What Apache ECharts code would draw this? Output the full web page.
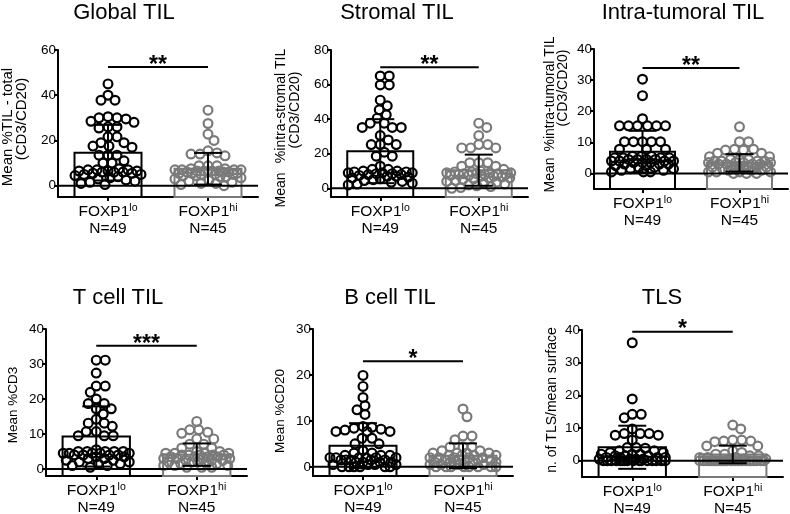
<!DOCTYPE html>
<html><head><meta charset="utf-8">
<script src="https://cdn.jsdelivr.net/npm/echarts@6/dist/echarts.min.js"></script>
<style>html,body{margin:0;padding:0;background:#fff}#c{width:790px;height:514px}</style>
</head><body><div id="c"></div>
<script>
// ---------------- data ----------------
const titles = ['Global TIL', 'Stromal TIL', 'Intra-tumoral TIL', 'T cell TIL', 'B cell TIL', 'TLS'];
const groupNames = ['FOXP1', 'FOXP1'];
const groupSup = ['lo', 'hi'];
const groupN = ['N=49', 'N=45'];
const yNames = [
  ['Mean %TIL - total', '(CD3/CD20)'],
  ['Mean', '%intra-stromal TIL', '(CD3/CD20)'],
  ['Mean', '%intra-tumoral TIL', '(CD3/CD20)'],
  ['Mean %CD3'],
  ['Mean %CD20'],
  ['n. of TLS/mean surface']
];
const yMin = [-5, -5, -5, -2, -2, -5];
const yMax = [60, 80, 40, 40, 30, 40];
const yTicks = [[0, 20, 40, 60], [0, 20, 40, 60, 80], [0, 10, 20, 30, 40], [0, 10, 20, 30, 40], [0, 10, 20, 30], [0, 10, 20, 30, 40]];
const meanLo = [14.6, 21.5, 7.0, 9.3, 4.6, 4.1];
const sdLo = [12.3, 18.5, 6.7, 8.6, 4.9, 6.6];
const meanHi = [7.5, 10.5, 3.4, 4.1, 2.4, 1.9];
const sdHi = [7.0, 9.0, 2.8, 3.2, 2.7, 2.7];
const sigY = [52.5, 70, 33.9, 35.2, 23, 39.5];
const sigStars = ['**', '**', '**', '***', '*', '*'];

const globalLo = [45, 40, 37.8, 37.8, 30, 30.5, 29.5, 30, 28, 28.5, 26, 26, 25.5, 21.6, 21.6, 19, 19, 17.5, 17.5, 17, 13.5, 13.5, 13.5, 11, 10, 10,
  7.5, 7, 7, 7, 6.5, 6.5, 6.5, 6, 6, 6, 5.5, 5.5, 5, 5, 4.5, 4, 3.5, 3, 2.5, 2, 1.5, 1, 0.5];
const globalHi = [33.4, 27.5, 22.8, 20, 15.4, 14.5, 14, 13.2, 14, 8.8, 8.8, 8.8,
  7.5, 7.5, 7, 7, 7, 7, 6.5, 6.5, 6.5, 6.5, 6, 6, 6, 6, 5.5, 5.5, 5.5, 5, 5, 5, 4.5, 4.5, 4, 4, 3.5, 3, 2.5, 2, 1.5, 1, 1, 0.5, 0];
const stromalLo = [65, 65, 59.8, 59.8, 51, 47.7, 45.4, 42.5, 40.6, 37.7, 37.7, 35.2, 35.2, 35.2, 30.5, 28, 25.3, 25.3, 25.3, 20.9, 18.6, 18.6, 12.8, 11, 11,
  10, 10, 9.5, 9.5, 9, 9, 9, 8.5, 8.5, 8, 8, 7.5, 7, 7, 6.5, 6, 5.5, 5, 4.5, 4, 3.5, 3, 2.5, 2];
const stromalHi = [37.7, 35.2, 30.5, 25.3, 25.3, 23.4, 23.4, 23.4, 14.8, 14.8, 14.8, 12.8, 12.8,
  11, 10, 9.5, 9.5, 9, 9, 9, 8.5, 8.5, 8.5, 8, 8, 8, 7.5, 7.5, 7, 7, 6.5, 6, 6, 5.5, 5, 4.5, 4, 3.5, 3, 2.5, 2, 1.5, 1, 0.5, 0];
const tumoralLo = [30.3, 25, 17.6, 15.3, 15.3, 15.3, 15.3, 15.3, 15.3, 10.2, 10.2, 10.2, 10.2, 10.2, 7.8, 7.8, 7.8,
  5.5, 5.5, 5.5, 5, 5, 5, 5, 4.5, 4.5, 4.5, 4.5, 4, 4, 4, 4, 3.5, 3.5, 3.5, 3, 3, 3, 2.5, 2.5, 2, 2, 1.5, 1.5, 1, 1, 0.5, 0.5, 0.5];
const tumoralHi = [15, 10.2, 10.2, 7.8, 7.5, 7.5, 7.8, 6.5, 6.5, 5.4, 5.4,
  4.5, 4.5, 4.5, 4, 4, 4, 4, 3.5, 3.5, 3.5, 3.5, 3, 3, 3, 3, 2.5, 2.5, 2.5, 2, 2, 2, 1.5, 1.5, 1.5, 1, 1, 1, 0.5, 0.5, 0.5, 0.5, 0, 0, 0];
const tcellLo = [31.1, 31.1, 27.4, 23.7, 23.7, 21.9, 20, 18.7, 18.7, 17.2, 17.2, 15.7, 14.2, 13.1, 13.1, 12.2, 10.7, 10.7, 9.5, 9.5, 9.5,
  5.5, 5, 5, 5, 5, 5, 4.5, 4.5, 4.5, 4.5, 4.5, 4, 4, 4, 4, 3.5, 3.5, 3, 3, 2.5, 2.5, 2, 2, 1.5, 1.5, 1, 1, 0.5];
const tcellHi = [13.6, 11.2, 10.5, 10.2, 11.2, 8.6, 8.6, 7.1, 7.1, 6, 6,
  5, 5, 4.5, 4.5, 4.5, 4.5, 4, 4, 4, 4, 4, 3.5, 3.5, 3.5, 3.5, 3, 3, 3, 3, 2.5, 2.5, 2.5, 2, 2, 2, 1.5, 1.5, 1.5, 1, 1, 1, 0.5, 0.5, 0.5];
const bcellLo = [19.9, 17.5, 15.1, 13.3, 12.4, 11.4, 8.8, 8.6, 8.2, 8.0, 8.4, 7.7, 7.7, 7.7, 6.2, 6.2, 5, 5,
  3.5, 3, 3, 2.5, 2.5, 2.5, 2, 2, 2, 2, 2, 2, 1.5, 1.5, 1.5, 1.5, 1.5, 1, 1, 1, 1, 0.5, 0.5, 0.5, 0.5, 0, 0, 0, 0, 0, 0];
const bcellHi = [12.6, 10.9, 6.7, 6.7, 5.9, 4.3, 4.3, 4.3,
  3.5, 3.5, 3, 3, 3, 3, 2.5, 2.5, 2.5, 2.5, 2, 2, 2, 2, 2, 1.5, 1.5, 1.5, 1.5, 1, 1, 1, 1, 1, 0.5, 0.5, 0.5, 0.5, 0.5, 0, 0, 0, 0, 0, 0, 0, 0];
const tlsLo = [36.1, 18.9, 14.2, 14.2, 13.1, 9.7, 8.3, 8.3, 8.3, 7.8, 7.8, 6.3, 4, 4, 3.8,
  3, 3, 2.5, 2.5, 2, 2, 2, 1.5, 1.5, 1.5, 1, 1, 1, 1, 0.5, 0.5, 0.5, 0.5, 0, 0, 0, 0, 0, 0, 0, 0, 0, 0, 0, 0, 0, 0, 0, 0];
const tlsHi = [10.9, 9.7, 6.3, 6, 5.8, 6, 6.3, 4.5, 4.5,
  3, 2.5, 2, 2, 1.5, 1.5, 1, 1, 1, 0.5, 0.5, 0.5, 0, 0, 0, 0, 0, 0, 0, 0, 0, 0, 0, 0, 0, 0, 0, 0, 0, 0, 0, 0, 0, 0, 0, 0];

const valuesLo = [globalLo, stromalLo, tumoralLo, tcellLo, bcellLo, tlsLo];
const valuesHi = [globalHi, stromalHi, tumoralHi, tcellHi, bcellHi, tlsHi];

// ---------------- layout & style ----------------
const FONT = '"Liberation Sans", Arial, Helvetica, sans-serif';
const BLACK = '#000';
const GREY = '#7a7a7a';
const grids = [
  { left: 58, top: 50, width: 200, height: 147 },
  { left: 331, top: 50, width: 197, height: 147 },
  { left: 594, top: 49, width: 194, height: 140 },
  { left: 46, top: 329, width: 201, height: 147 },
  { left: 313, top: 329, width: 200, height: 147 },
  { left: 582, top: 330, width: 201, height: 147 }
];
const titlePos = [[124, 13], [397, 13], [683, 13], [118, 298], [390, 298], [662, 298]];
const yNameFont = [15, 14, 14, 13.5, 13.5, 14];
const yNamePos = [
  [[8, 127], [22, 119]],
  [[281, 190], [281, 106], [295, 110]],
  [[550, 175], [550, 94], [563, 88]],
  [[13, 405]],
  [[280, 411]],
  [[552, 400]]
];

// beeswarm: each point takes the free spot nearest the centre line;
// when the band is full it takes the least crowded spot
function swarm(ys, cx, minD, maxOff) {
  const order = ys.map((y, i) => i).sort((a, b) => ys[a] - ys[b]);
  const placed = [];
  const xs = new Array(ys.length);
  order.forEach(i => {
    const y = ys[i];
    let best = 0, bestScore = -1;
    for (let k = 0; k <= 2 * maxOff; k++) {
      const off = (k % 2 ? 1 : -1) * Math.ceil(k / 2);
      let md = Infinity;
      for (const p of placed) {
        const d = Math.hypot(p[0] - (cx + off), p[1] - y);
        if (d < md) md = d;
      }
      if (md >= minD) { best = off; bestScore = md; break; }
      if (md > bestScore) { bestScore = md; best = off; }
    }
    xs[i] = cx + best;
    placed.push([cx + best, y]);
  });
  return xs;
}

function dotsRender(vals, g, color) {
  let cache = null;
  return function (params, api) {
    if (params.dataIndexInside === 0 || !cache) {
      const cx = api.coord([g, 0])[0];
      const hw = api.size([1, 0])[0] * 0.335;
      const ys = vals.map(v => api.coord([g, v])[1]);
      cache = { ys: ys, xs: swarm(ys, cx, 8.5, Math.round(hw - 1)) };
    }
    const i = params.dataIndex;
    return { type: 'circle', shape: { cx: cache.xs[i], cy: cache.ys[i], r: 4.4 },
      style: { fill: 'none', stroke: color, lineWidth: 2.2 } };
  };
}

function barsRender(p) {
  return function (params, api) {
    const hw = api.size([1, 0])[0] * 0.335;
    const children = [];
    [0, 1].forEach(g => {
      const m = g ? meanHi[p] : meanLo[p];
      const top = api.coord([g, m]);
      const bot = api.coord([g, yMin[p]]);
      children.push({ type: 'rect', shape: { x: top[0] - hw, y: top[1], width: 2 * hw, height: bot[1] - top[1] },
        style: { fill: 'none', stroke: g ? GREY : BLACK, lineWidth: 2 } });
    });
    return { type: 'group', children: children };
  };
}

function overlayRender(p) {
  return function (params, api) {
    const cs = params.coordSys;
    const children = [];
    const z = api.coord([0, 0]);
    children.push({ type: 'line', shape: { x1: cs.x, y1: z[1], x2: cs.x + cs.width, y2: z[1] },
      style: { stroke: BLACK, lineWidth: 2 } });
    [0, 1].forEach(g => {
      const m = g ? meanHi[p] : meanLo[p];
      const s = g ? sdHi[p] : sdLo[p];
      const a = api.coord([g, m + s]);
      const b = api.coord([g, m - s]);
      const cw = 14;
      children.push({ type: 'line', shape: { x1: a[0], y1: a[1], x2: b[0], y2: b[1] }, style: { stroke: BLACK, lineWidth: 2 } });
      children.push({ type: 'line', shape: { x1: a[0] - cw, y1: a[1], x2: a[0] + cw, y2: a[1] }, style: { stroke: BLACK, lineWidth: 2 } });
      children.push({ type: 'line', shape: { x1: b[0] - cw, y1: b[1], x2: b[0] + cw, y2: b[1] }, style: { stroke: BLACK, lineWidth: 2 } });
    });
    const s1 = api.coord([0, sigY[p]]);
    const s2 = api.coord([1, sigY[p]]);
    children.push({ type: 'line', shape: { x1: s1[0], y1: s1[1], x2: s2[0], y2: s2[1] }, style: { stroke: BLACK, lineWidth: 2 } });
    children.push({ type: 'text', style: { text: sigStars[p], x: (s1[0] + s2[0]) / 2, y: s1[1] + 10,
      align: 'center', verticalAlign: 'bottom', font: 'bold 23px ' + FONT, fill: BLACK } });
    return { type: 'group', children: children };
  };
}

const option = { animation: false, backgroundColor: '#fff', grid: [], xAxis: [], yAxis: [], series: [], graphic: [] };

for (let p = 0; p < 6; p++) {
  option.grid.push(Object.assign({ containLabel: false, outerBoundsMode: 'none' }, grids[p]));
  option.xAxis.push({
    gridIndex: p, type: 'category', data: ['lo', 'hi'],
    axisLine: { show: true, onZero: false, lineStyle: { color: BLACK, width: 2 } },
    axisTick: { show: true, alignWithLabel: true, length: 4, lineStyle: { color: BLACK, width: 2 } },
    axisLabel: {
      margin: 6, interval: 0,
      formatter: (v, i) => '{m|' + groupNames[i] + '}{s|' + groupSup[i] + '}\n{m|' + groupN[i] + '}',
      rich: {
        m: { fontSize: 15.5, lineHeight: 17, fontFamily: FONT, color: BLACK },
        s: { fontSize: 10.5, lineHeight: 8, verticalAlign: 'top', fontFamily: FONT, color: BLACK }
      }
    },
    splitLine: { show: false }
  });
  option.yAxis.push({
    gridIndex: p, type: 'value', min: yMin[p], max: yMax[p],
    axisLine: { show: true, onZero: false, lineStyle: { color: BLACK, width: 2 } },
    axisTick: { show: true, length: 4, customValues: yTicks[p], lineStyle: { color: BLACK, width: 2 } },
    axisLabel: { customValues: yTicks[p], color: BLACK, fontSize: 13.5, fontFamily: FONT, margin: 2 },
    splitLine: { show: false }
  });
  option.series.push({ type: 'custom', xAxisIndex: p, yAxisIndex: p, z: 1, data: [[0, 0]], renderItem: barsRender(p) });
  option.series.push({ type: 'custom', xAxisIndex: p, yAxisIndex: p, z: 2,
    data: valuesLo[p].map(v => [0, v]), renderItem: dotsRender(valuesLo[p], 0, BLACK) });
  option.series.push({ type: 'custom', xAxisIndex: p, yAxisIndex: p, z: 2,
    data: valuesHi[p].map(v => [1, v]), renderItem: dotsRender(valuesHi[p], 1, GREY) });
  option.series.push({ type: 'custom', xAxisIndex: p, yAxisIndex: p, z: 3, data: [[0, 0]], renderItem: overlayRender(p) });

  option.graphic.push({ type: 'text', x: titlePos[p][0], y: titlePos[p][1],
    style: { text: titles[p], align: 'center', verticalAlign: 'middle', font: '22px ' + FONT, fill: BLACK } });
  yNames[p].forEach((t, k) => {
    option.graphic.push({ type: 'text', x: yNamePos[p][k][0], y: yNamePos[p][k][1], rotation: Math.PI / 2,
      style: { text: t, align: 'center', verticalAlign: 'middle', font: yNameFont[p] + 'px ' + FONT, fill: BLACK } });
  });
}

const chart = echarts.init(document.getElementById('c'), null, { renderer: 'canvas' });
chart.setOption(option);
</script></body></html>
